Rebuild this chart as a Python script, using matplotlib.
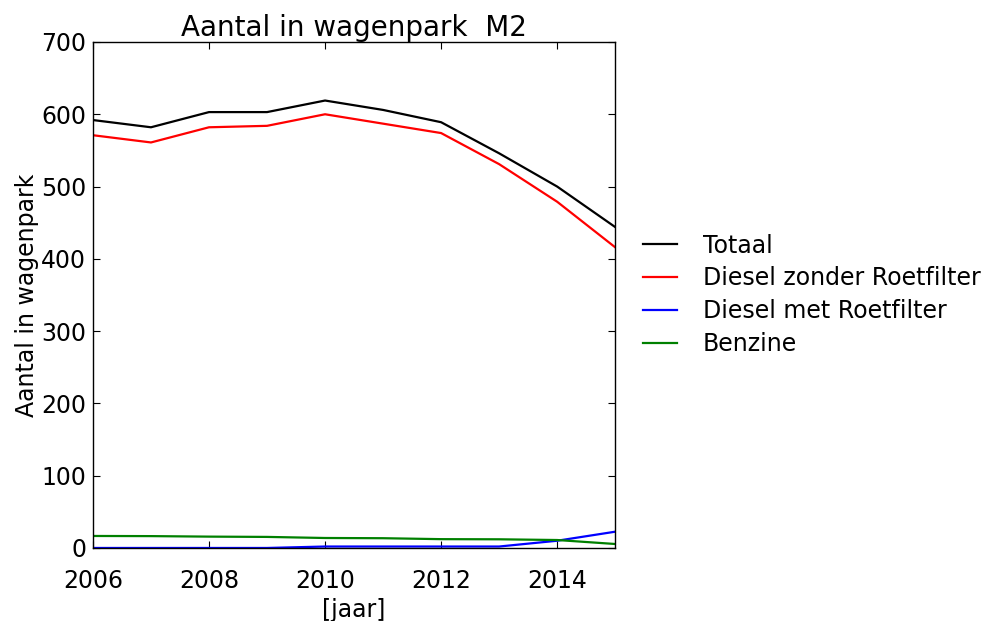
import matplotlib
matplotlib.use("Agg")
import matplotlib.pyplot as plt

# jaren en aantallen
jaren = [2006, 2007, 2008, 2009, 2010, 2011, 2012, 2013, 2014, 2015]
totaal = [592, 582, 603, 603, 619, 606, 589, 546, 500, 444]
diesel_zonder = [571, 561, 582, 584, 600, 587, 574, 531, 479, 416]
diesel_met = [0, 0, 0, 0, 2, 2, 2, 2, 10, 22.5]
benzine = [16.6, 16.4, 15.7, 15.3, 13.8, 13.5, 12.2, 12, 11, 5.5]

FS = 17
plt.rcParams.update({
    "font.family": "DejaVu Sans",
    "font.size": FS,
    "xtick.direction": "in",
    "ytick.direction": "in",
    "xtick.top": True,
    "ytick.right": True,
    "xtick.major.size": 5,
    "ytick.major.size": 5,
    "xtick.major.pad": 15,
    "ytick.major.pad": 5,
    "axes.linewidth": 1.0,
})

fig = plt.figure(figsize=(9.89, 6.21), dpi=100, facecolor="white")
ax = fig.add_axes([0.094, 0.1176, 0.528, 0.8148])

ax.plot(jaren, totaal, color="black", lw=1.6, label="Totaal")
ax.plot(jaren, diesel_zonder, color="red", lw=1.6, label="Diesel zonder Roetfilter")
ax.plot(jaren, diesel_met, color="blue", lw=1.6, label="Diesel met Roetfilter")
ax.plot(jaren, benzine, color="green", lw=1.6, label="Benzine")

ax.set_xlim(2006, 2015)
ax.set_ylim(0, 700)
ax.set_xticks([2006, 2008, 2010, 2012, 2014])
ax.set_yticks(range(0, 701, 100))
ax.tick_params(labelsize=FS)

ax.set_title("Aantal in wagenpark  M2", fontsize=20, pad=4)
ax.set_xlabel("[jaar]", fontsize=FS, labelpad=4)
ax.set_ylabel("Aantal in wagenpark", fontsize=FS, labelpad=1)

ax.legend(loc="center left", bbox_to_anchor=(1.0, 0.5), frameon=False,
          fontsize=FS, handlelength=1.4, handletextpad=1.1,
          labelspacing=0.38, borderaxespad=0.8)

fig.savefig("out.png", dpi=100, facecolor="white")
